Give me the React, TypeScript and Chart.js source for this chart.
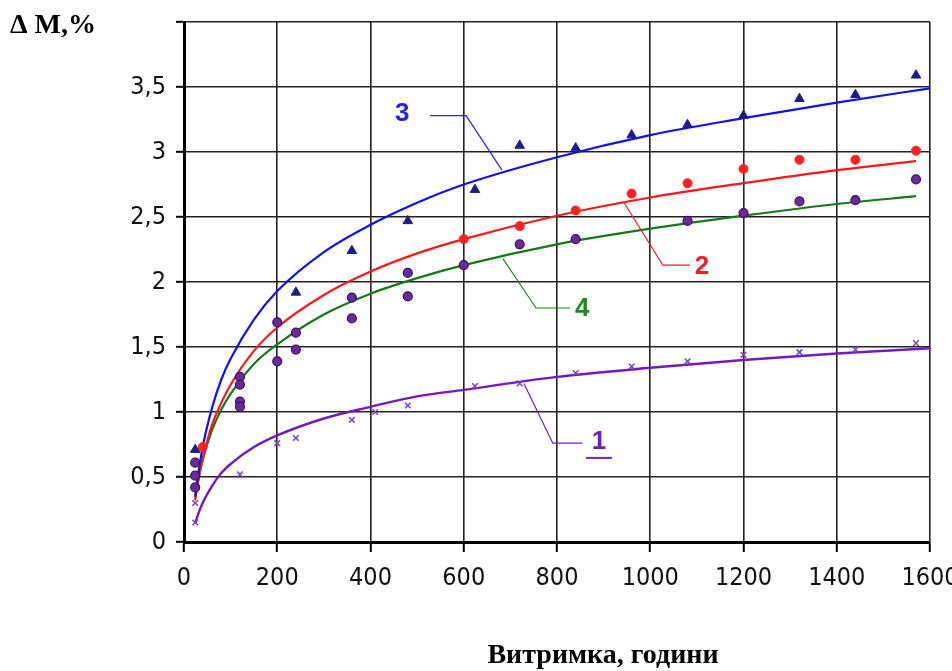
import { useEffect, useRef } from 'react';
import { Chart, registerables } from 'chart.js';

Chart.register(...registerables);

// ---- data ----
const fitX = [24, 30, 40, 60, 80, 100, 150, 200, 300, 400, 500, 600, 800, 1000, 1200, 1400, 1600];
const fitXShort = [24, 30, 40, 60, 80, 100, 150, 200, 300, 400, 500, 600, 800, 1000, 1200, 1400, 1570];

const curve1Y = [0.14, 0.21, 0.30, 0.43, 0.53, 0.60, 0.73, 0.82, 0.95, 1.04, 1.12, 1.17, 1.27, 1.34, 1.40, 1.45, 1.49];
const curve3Y = [0.35, 0.51, 0.73, 1.03, 1.25, 1.41, 1.71, 1.93, 2.23, 2.44, 2.61, 2.75, 2.96, 3.13, 3.26, 3.38, 3.49];
const curve2Y = [0.32, 0.46, 0.64, 0.90, 1.07, 1.21, 1.47, 1.65, 1.90, 2.08, 2.22, 2.33, 2.51, 2.65, 2.76, 2.86, 2.93];
const curve4Y = [0.34, 0.47, 0.63, 0.86, 1.02, 1.14, 1.37, 1.52, 1.75, 1.91, 2.03, 2.13, 2.29, 2.41, 2.51, 2.60, 2.66];

const pts3X = [24, 240, 360, 480, 624, 720, 840, 960, 1080, 1200, 1320, 1440, 1570];
const pts3Y = [0.71, 1.92, 2.24, 2.47, 2.71, 3.05, 3.03, 3.13, 3.21, 3.28, 3.41, 3.44, 3.59];

const pts2X = [40, 600, 720, 840, 960, 1080, 1200, 1320, 1440, 1570];
const pts2Y = [0.73, 2.33, 2.43, 2.55, 2.68, 2.76, 2.87, 2.94, 2.94, 3.01];

const pts4X = [24, 24, 24, 120, 120, 120, 120, 200, 200, 240, 240, 360, 360, 480, 480, 600, 720, 840, 1080, 1200, 1320, 1440, 1570];
const pts4Y = [0.61, 0.51, 0.42, 1.27, 1.21, 1.08, 1.04, 1.69, 1.39, 1.61, 1.48, 1.88, 1.72, 2.07, 1.89, 2.13, 2.29, 2.33, 2.47, 2.53, 2.62, 2.63, 2.79];

const pts1X = [24, 24, 120, 200, 240, 360, 410, 480, 624, 720, 840, 960, 1080, 1200, 1320, 1440, 1570];
const pts1Y = [0.15, 0.30, 0.52, 0.76, 0.80, 0.94, 1.00, 1.05, 1.20, 1.22, 1.30, 1.35, 1.39, 1.44, 1.46, 1.48, 1.53];

const yTickValues = [0, 0.5, 1, 1.5, 2, 2.5, 3, 3.5];
const xTickValues = [0, 200, 400, 600, 800, 1000, 1200, 1400, 1600];

const yAxisTitle = 'Δ M,%';
const xAxisTitle = 'Витримка, години';

// curve labels with leader lines, in data coordinates
const curveLabels = [
  { text: '3', color: '#2323e6', line: [[682, 2.86], [605, 3.28], [528, 3.28]], at: [468, 3.29], underline: false },
  { text: '2', color: '#ee2222', line: [[944, 2.61], [1027, 2.13], [1085, 2.13]], at: [1111, 2.12], underline: false },
  { text: '4', color: '#1a8a1a', line: [[684, 2.18], [755, 1.80], [828, 1.80]], at: [854, 1.79], underline: false },
  { text: '1', color: '#7a1ab8', line: [[729, 1.22], [791, 0.76], [854, 0.76]], at: [890, 0.77], underline: true },
];

const zip = (xs: number[], ys: number[]) => xs.map((x, i) => ({ x, y: ys[i] }));

const tickFont = { family: '"Liberation Sans Narrow", "Arial Narrow", "DejaVu Sans Condensed", sans-serif', size: 25 };

const overlayPlugin = {
  id: 'overlay',
  afterDatasetsDraw(chart: any) {
    const { ctx, scales } = chart;
    const xs = scales.x;
    const ys = scales.y;
    ctx.save();
    for (const lab of curveLabels) {
      ctx.strokeStyle = lab.color;
      ctx.lineWidth = 1.2;
      ctx.beginPath();
      lab.line.forEach(([dx, dy], i) => {
        const px = xs.getPixelForValue(dx);
        const py = ys.getPixelForValue(dy);
        if (i === 0) ctx.moveTo(px, py);
        else ctx.lineTo(px, py);
      });
      ctx.stroke();
      const tx = xs.getPixelForValue(lab.at[0]);
      const ty = ys.getPixelForValue(lab.at[1]);
      ctx.fillStyle = lab.color;
      ctx.font = 'bold 26px "Liberation Sans Narrow", "Arial Narrow", "Liberation Sans", sans-serif';
      ctx.textAlign = 'center';
      ctx.textBaseline = 'middle';
      ctx.fillText(lab.text, tx, ty);
      if (lab.underline) {
        ctx.lineWidth = 2;
        ctx.beginPath();
        ctx.moveTo(tx - 13, ty + 16);
        ctx.lineTo(tx + 13, ty + 16);
        ctx.stroke();
      }
    }
    ctx.fillStyle = '#000';
    ctx.font = 'bold 28px "Liberation Serif", "DejaVu Serif", serif';
    ctx.textAlign = 'left';
    ctx.textBaseline = 'alphabetic';
    ctx.fillText(yAxisTitle, 10, 33);
    ctx.textAlign = 'center';
    ctx.fillText(xAxisTitle, 603, 663);
    ctx.restore();
  },
};

export default function App() {
  const ref = useRef<HTMLCanvasElement>(null);

  useEffect(() => {
    if (!ref.current) return;
    const chart = new Chart(ref.current, {
      type: 'scatter',
      data: {
        datasets: [
          {
            label: 'pts3',
            data: zip(pts3X, pts3Y),
            pointStyle: 'triangle',
            pointRadius: 5.5,
            backgroundColor: '#1c1c8c',
            borderColor: '#1c1c8c',
            borderWidth: 1,
          },
          {
            label: 'pts2',
            data: zip(pts2X, pts2Y),
            pointStyle: 'circle',
            pointRadius: 4.5,
            backgroundColor: '#ff2020',
            borderColor: '#ff2020',
            borderWidth: 1,
          },
          {
            label: 'pts4',
            data: zip(pts4X, pts4Y),
            pointStyle: 'circle',
            pointRadius: 4.5,
            backgroundColor: '#6a2a9c',
            borderColor: '#3a1060',
            borderWidth: 1.2,
          },
          {
            label: 'pts1',
            data: zip(pts1X, pts1Y),
            pointStyle: 'crossRot',
            pointRadius: 4,
            backgroundColor: '#7a40c0',
            borderColor: '#7a40c0',
            borderWidth: 1.5,
          },
          {
            label: 'curve3',
            data: zip(fitX, curve3Y),
            showLine: true,
            pointRadius: 0,
            borderColor: '#1010f0',
            borderWidth: 2.2,
            cubicInterpolationMode: 'monotone',
          },
          {
            label: 'curve2',
            data: zip(fitXShort, curve2Y),
            showLine: true,
            pointRadius: 0,
            borderColor: '#f81818',
            borderWidth: 2.2,
            cubicInterpolationMode: 'monotone',
          },
          {
            label: 'curve4',
            data: zip(fitXShort, curve4Y),
            showLine: true,
            pointRadius: 0,
            borderColor: '#167816',
            borderWidth: 2.2,
            cubicInterpolationMode: 'monotone',
          },
          {
            label: 'curve1',
            data: zip(fitX, curve1Y),
            showLine: true,
            pointRadius: 0,
            borderColor: '#7418c4',
            borderWidth: 2.4,
            cubicInterpolationMode: 'monotone',
          },
        ],
      },
      options: {
        animation: false,
        responsive: false,
        devicePixelRatio: 1,
        layout: { padding: { top: 22, right: 22, left: 0, bottom: 0 } },
        plugins: {
          legend: { display: false },
          tooltip: { enabled: false },
        },
        scales: {
          x: {
            type: 'linear',
            min: 0,
            max: 1600,
            afterBuildTicks: (s: any) => {
              s.ticks = xTickValues.map((v) => ({ value: v }));
            },
            afterFit: (s: any) => {
              s.height = 129;
              s.paddingLeft = 0;
              s.paddingRight = 0;
            },
            ticks: {
              font: tickFont,
              color: '#111',
              padding: 11,
              maxRotation: 0,
              autoSkip: false,
              callback: (v: any) => String(v),
            },
            grid: {
              color: '#222',
              lineWidth: 1.6,
              tickLength: 10,
              tickColor: '#000',
              tickWidth: 2,
            },
            border: { color: '#000', width: 3 },
          },
          y: {
            type: 'linear',
            min: 0,
            max: 4,
            afterBuildTicks: (s: any) => {
              s.ticks = [...yTickValues, 4].map((v) => ({ value: v }));
            },
            afterFit: (s: any) => {
              s.width = 184;
              s.paddingTop = 0;
              s.paddingBottom = 0;
            },
            ticks: {
              font: tickFont,
              color: '#111',
              padding: 10,
              autoSkip: false,
              callback: (v: any) => (v === 4 ? '' : String(v).replace('.', ',')),
            },
            grid: {
              color: '#222',
              lineWidth: 1.6,
              tickLength: 8,
              tickColor: '#000',
              tickWidth: 2,
            },
            border: { color: '#000', width: 3 },
          },
        },
      },
      plugins: [overlayPlugin],
    } as any);
    return () => chart.destroy();
  }, []);

  return (
    <div style={{ position: 'fixed', left: 0, top: 0, width: 952, height: 671, background: '#fff' }}>
      <canvas ref={ref} width={952} height={671} style={{ display: 'block', width: 952, height: 671 }} />
    </div>
  );
}
